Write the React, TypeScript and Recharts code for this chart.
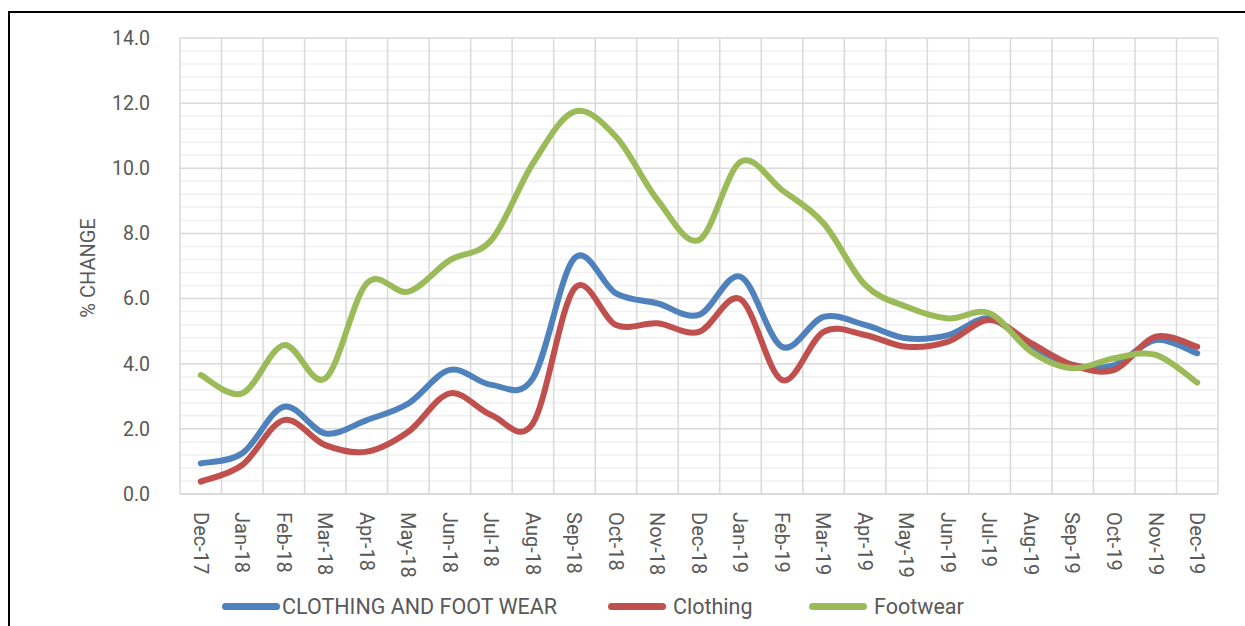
import React from 'react';
import { LineChart, Line, XAxis, YAxis, CartesianGrid, Legend } from 'recharts';

const categories = ['Dec-17','Jan-18','Feb-18','Mar-18','Apr-18','May-18','Jun-18','Jul-18','Aug-18','Sep-18','Oct-18','Nov-18','Dec-18','Jan-19','Feb-19','Mar-19','Apr-19','May-19','Jun-19','Jul-19','Aug-19','Sep-19','Oct-19','Nov-19','Dec-19'];

const clothingAndFootwear = [0.94, 1.25, 2.68, 1.86, 2.27, 2.78, 3.81, 3.35, 3.55, 7.24, 6.16, 5.85, 5.5, 6.67, 4.52, 5.44, 5.19, 4.78, 4.88, 5.39, 4.52, 3.96, 3.96, 4.73, 4.32];
const clothing = [0.38, 0.89, 2.27, 1.5, 1.3, 1.91, 3.09, 2.42, 2.17, 6.31, 5.19, 5.24, 4.98, 5.98, 3.5, 4.98, 4.88, 4.52, 4.68, 5.34, 4.63, 3.96, 3.81, 4.83, 4.52];
const footwear = [3.65, 3.09, 4.57, 3.55, 6.47, 6.21, 7.18, 7.8, 10.15, 11.74, 10.97, 9.03, 7.8, 10.2, 9.33, 8.31, 6.42, 5.75, 5.39, 5.55, 4.37, 3.86, 4.17, 4.27, 3.42];

const yTicks = [0, 2, 4, 6, 8, 10, 12, 14];
const seriesNames = ['CLOTHING AND FOOT WEAR', 'Clothing', 'Footwear'];
const seriesColors = ['#4F81BD', '#C0504D', '#9BBB59'];
const legendLeft = [222, 608, 809];

const data = categories.map((label, i) => ({
  idx: i,
  label,
  total: clothingAndFootwear[i],
  clothing: clothing[i],
  footwear: footwear[i],
}));

const xTicks = categories.map((_, i) => i);
const xBoundaries = [...categories.map((_, i) => i - 0.5), categories.length - 0.5];
const minorY = Array.from({ length: 36 }, (_, i) => Math.round(i * 0.4 * 10) / 10).filter((v) => v <= 14 && Math.abs(v / 2 - Math.round(v / 2)) > 1e-6);

// Excel-like smoothing (Catmull-Rom through the points)
const excelCurve: any = (context: any) => {
  let pts: number[][] = [];
  return {
    areaStart() {},
    areaEnd() {},
    lineStart() { pts = []; },
    point(x: number, y: number) { pts.push([+x, +y]); },
    lineEnd() {
      if (!pts.length) return;
      context.moveTo(pts[0][0], pts[0][1]);
      for (let i = 0; i < pts.length - 1; i++) {
        const p0 = pts[i - 1] || pts[i];
        const p1 = pts[i];
        const p2 = pts[i + 1];
        const p3 = pts[i + 2] || pts[i + 1];
        context.bezierCurveTo(
          p1[0] + (p2[0] - p0[0]) / 6, p1[1] + (p2[1] - p0[1]) / 6,
          p2[0] - (p3[0] - p1[0]) / 6, p2[1] - (p3[1] - p1[1]) / 6,
          p2[0], p2[1]
        );
      }
    },
  };
};

const XTick = (props: any) => {
  const { x, payload } = props;
  return (
    <g transform={`translate(${x},512)`}>
      <text transform="rotate(90)" x={0} y={0} dy="0.36em" textAnchor="start" fill="#595959" fontFamily="Roboto" fontSize={20}>
        {categories[payload.value]}
      </text>
    </g>
  );
};

const LegendContent = () => (
  <div style={{ position: 'relative', height: 40, fontFamily: 'Roboto', fontSize: 21.5, color: '#595959' }}>
    {seriesNames.map((n, i) => (
      <div key={n} style={{ position: 'absolute', left: legendLeft[i], top: 0, height: 40, display: 'flex', alignItems: 'center' }}>
        <div style={{ width: 58, height: 7, borderRadius: 4, background: seriesColors[i], marginRight: i === 0 ? 2 : 7 }} />
        <span style={{ whiteSpace: 'nowrap' }}>{n}</span>
      </div>
    ))}
  </div>
);

const YLabel = (props: any) => {
  const vb = props.viewBox || { x: 0, y: 38, width: 180, height: 456 };
  const cx = vb.x + 88;
  const cy = vb.y + vb.height / 2 + 2;
  return (
    <text x={cx} y={cy} transform={`rotate(-90, ${cx}, ${cy})`} textAnchor="middle" dominantBaseline="central" fill="#595959" fontFamily="Roboto" fontSize={20}>
      % CHANGE
    </text>
  );
};

export default function App() {
  return (
    <div style={{ position: 'absolute', left: 0, top: 0, width: 1245, height: 626, overflow: 'hidden', background: '#fff' }}>
      <div style={{ position: 'absolute', left: 8, top: 11, width: 1300, height: 700, border: '2px solid #000', boxSizing: 'border-box' }} />
      <div style={{ position: 'absolute', left: 0, top: 0 }}>
        <LineChart width={1245} height={626} data={data} margin={{ top: 38, right: 27, bottom: 0, left: 0 }}>
          <CartesianGrid horizontalValues={minorY} verticalValues={[]} vertical={false} stroke="#f0f0f0" strokeWidth={1.5} />
          <CartesianGrid horizontalValues={yTicks} verticalValues={xBoundaries} stroke="#d9d9d9" strokeWidth={1.5} />
          <XAxis
            dataKey="idx"
            type="number"
            domain={[-0.5, categories.length - 0.5]}
            ticks={xTicks}
            interval={0}
            tick={<XTick />}
            tickLine={false}
            axisLine={{ stroke: '#d9d9d9', strokeWidth: 1.5 }}
            height={92}
          />
          <YAxis
            domain={[0, 14]}
            ticks={yTicks}
            interval={0}
            width={180}
            tickLine={false}
            axisLine={false}
            tickSize={0}
            tickMargin={30}
            tickFormatter={(v: number) => v.toFixed(1)}
            tick={{ fill: '#595959', fontFamily: 'Roboto', fontSize: 19.5 }}
            label={{ content: <YLabel /> }}
          />
          <Legend verticalAlign="bottom" height={40} content={<LegendContent />} wrapperStyle={{ left: 0, width: 1245, bottom: 0 }} />
          <Line dataKey="total" name={seriesNames[0]} stroke={seriesColors[0]} strokeWidth={6} strokeLinecap="round" type={excelCurve} dot={false} activeDot={false} isAnimationActive={false} />
          <Line dataKey="clothing" name={seriesNames[1]} stroke={seriesColors[1]} strokeWidth={6} strokeLinecap="round" type={excelCurve} dot={false} activeDot={false} isAnimationActive={false} />
          <Line dataKey="footwear" name={seriesNames[2]} stroke={seriesColors[2]} strokeWidth={6} strokeLinecap="round" type={excelCurve} dot={false} activeDot={false} isAnimationActive={false} />
        </LineChart>
      </div>
    </div>
  );
}
